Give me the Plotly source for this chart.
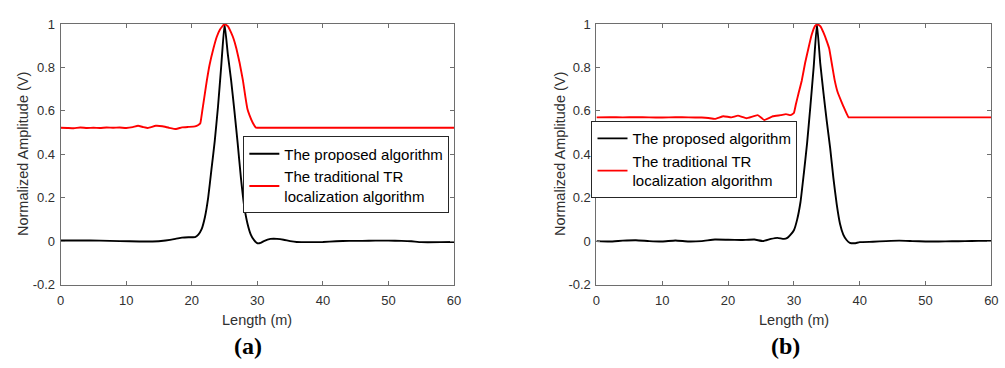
import plotly.graph_objects as go

# ---------------- data ----------------
# panel (a)
a_prop_x = [0, 3, 6, 9, 12, 14, 16, 17.5, 18.5, 19.5, 20.5, 21, 21.5, 22, 22.5, 23, 23.5, 24,
            24.5, 25, 25.5, 26, 26.5, 27, 27.5, 28, 28.5, 29, 29.5, 30, 30.5, 31, 32, 32.5, 33,
            34, 35, 36, 38, 40, 42, 44, 46, 48, 50, 52, 53.5, 55, 58, 60]
a_prop_y = [0.003, 0.003, 0.002, 0.0, -0.002, -0.002, 0.003, 0.01, 0.016, 0.018, 0.018, 0.03,
            0.055, 0.11, 0.2, 0.33, 0.46, 0.62, 0.81, 1.0, 0.86, 0.74, 0.6, 0.45, 0.29, 0.16,
            0.08, 0.03, 0.004, -0.01, -0.008, 0.0, 0.01, 0.011, 0.01, 0.006, 0.0, -0.004,
            -0.005, -0.004, -0.001, 0.001, 0.001, 0.002, 0.002, 0.001, -0.001, -0.005, -0.005, -0.004]

a_trad_x = [0, 1, 2, 3, 4, 5, 6, 7, 8, 9, 10, 11, 11.8, 12.6, 13.3, 14.5, 15.5, 16.5, 17.6,
            18.5, 19.5, 20.5, 21, 21.3, 21.6, 22, 22.3, 22.7, 23.3, 23.8, 24.3, 25, 25.5, 26,
            26.4, 26.8, 27.3, 27.8, 28.2, 28.5, 28.8, 29.3, 29.8, 30.2, 31, 35, 40, 50, 60]
a_trad_y = [0.522, 0.521, 0.52, 0.523, 0.521, 0.522, 0.521, 0.523, 0.522, 0.523, 0.521, 0.525,
            0.531, 0.525, 0.521, 0.531, 0.529, 0.522, 0.516, 0.524, 0.526, 0.528, 0.535, 0.543,
            0.6, 0.68, 0.74, 0.81, 0.887, 0.94, 0.975, 1.0, 0.99, 0.96, 0.93, 0.887, 0.82, 0.74,
            0.66, 0.607, 0.58, 0.545, 0.522, 0.522, 0.522, 0.522, 0.522, 0.522, 0.522]

# panel (b)
b_prop_x = [0, 2, 4, 6, 8, 10, 12, 14, 16, 18, 20, 22, 24, 25.3, 26.5, 27.5, 28.5, 29, 29.5,
            30, 30.5, 31, 31.5, 32, 32.5, 33, 33.5, 34, 34.5, 35, 35.5, 36, 36.5, 37, 37.5, 38,
            38.5, 39.2, 40, 42, 44, 46, 48, 50, 52, 54, 56, 58, 60]
b_prop_y = [0.0, -0.002, 0.002, 0.004, 0.0, -0.002, 0.003, -0.002, 0.0, 0.007, 0.006, 0.005,
            0.007, 0.0, 0.01, 0.015, 0.01, 0.015, 0.03, 0.05, 0.1, 0.18, 0.31, 0.45, 0.62, 0.8,
            1.0, 0.82, 0.68, 0.55, 0.43, 0.29, 0.17, 0.08, 0.03, 0.005, -0.008, -0.01, -0.005,
            -0.003, 0.0, 0.002, 0.0, -0.002, -0.002, -0.001, 0.0, 0.001, 0.001]

b_trad_x = [0, 2, 4, 6, 8, 10, 12, 14, 16, 17, 18, 19.3, 20.5, 21.5, 22.8, 24.5, 25.5, 26.8,
            28, 28.8, 29.5, 30, 30.3, 30.7, 31.2, 31.7, 32.2, 32.7, 33.2, 33.56, 34, 34.5, 35,
            35.36, 35.8, 36.2, 36.6, 36.9, 37.5, 38.3, 38.7, 39.5, 42, 45, 50, 55, 60]
b_trad_y = [0.57, 0.571, 0.57, 0.571, 0.57, 0.569, 0.571, 0.57, 0.569, 0.567, 0.563, 0.575,
            0.57, 0.578, 0.566, 0.58, 0.558, 0.575, 0.58, 0.585, 0.58, 0.59, 0.63, 0.68, 0.74,
            0.82, 0.887, 0.95, 0.99, 1.0, 0.99, 0.96, 0.92, 0.887, 0.81, 0.74, 0.69, 0.666,
            0.622, 0.57, 0.57, 0.57, 0.57, 0.57, 0.57, 0.57, 0.57]

series_names = ["The proposed algorithm", "The traditional TR<br>localization algorithm"]
x_ticks = [0, 10, 20, 30, 40, 50, 60]
y_ticks = [-0.2, 0, 0.2, 0.4, 0.6, 0.8, 1]
y_tick_text = ["-0.2", "0", "0.2", "0.4", "0.6", "0.8", "1"]
x_title = "Length (m)"
y_title = "Normalized Amplitude (V)"
captions = ["(a)", "(b)"]

# ---------------- layout helpers ----------------
W, H = 1005, 368


def px(x):
    return x / W


def py(y):
    return 1 - y / H


FONT = "Liberation Sans"
TXT = "#303030"
AX = "#6e6e6e"

fig = go.Figure()

black_line = dict(color="black", width=1.9, shape="spline", smoothing=0.4)
red_line = dict(color="#ff0000", width=1.9, shape="spline", smoothing=0.3)

fig.add_trace(go.Scatter(x=a_prop_x, y=a_prop_y, mode="lines", name=series_names[0],
                         line=black_line, xaxis="x", yaxis="y", legend="legend"))
fig.add_trace(go.Scatter(x=a_trad_x, y=a_trad_y, mode="lines", name=series_names[1],
                         line=red_line, xaxis="x", yaxis="y", legend="legend"))
fig.add_trace(go.Scatter(x=b_prop_x, y=b_prop_y, mode="lines", name=series_names[0],
                         line=black_line, xaxis="x2", yaxis="y2", legend="legend2"))
fig.add_trace(go.Scatter(x=b_trad_x, y=b_trad_y, mode="lines", name=series_names[1],
                         line=red_line, xaxis="x2", yaxis="y2", legend="legend2"))

ydom = [py(289.3), py(17.7)]
doms = [[px(57.3), px(455)], [px(599), px(998.3)]]

common_x = dict(range=[0, 60], tickvals=x_ticks, ticks="inside", ticklen=4, tickcolor=AX,
                showline=True, linecolor=AX, linewidth=1, mirror="ticks", showgrid=False,
                zeroline=False, ticklabelstandoff=4,
                tickfont=dict(family=FONT, size=13, color=TXT))
common_y = dict(range=[-0.2, 1], tickvals=y_ticks, ticktext=y_tick_text, ticks="inside",
                ticklen=4, tickcolor=AX, showline=True, linecolor=AX, linewidth=1,
                mirror="ticks", showgrid=False, zeroline=False, ticklabelstandoff=2,
                tickfont=dict(family=FONT, size=13, color=TXT))

legend_common = dict(xanchor="left", yanchor="top", bgcolor="white", bordercolor="#262626",
                     borderwidth=1, font=dict(family=FONT, size=15, color="black"),
                     tracegroupgap=0, xref="paper", yref="paper")

fig.update_layout(
    width=W, height=H, margin=dict(l=0, r=0, t=0, b=0), autosize=False,
    paper_bgcolor="white", plot_bgcolor="white", showlegend=True,
    xaxis=dict(domain=doms[0], anchor="y", **common_x),
    yaxis=dict(domain=ydom, anchor="x", **common_y),
    xaxis2=dict(domain=doms[1], anchor="y2", **common_x),
    yaxis2=dict(domain=ydom, anchor="x2", **common_y),
    legend=dict(x=px(242), y=py(135), **legend_common),
    legend2=dict(x=px(594), y=py(119), **legend_common),
)

annotations = []
for i, dom in enumerate(doms):
    cx = (dom[0] + dom[1]) / 2
    annotations.append(dict(text=x_title, x=cx, y=py(326), xref="paper", yref="paper",
                            showarrow=False, xanchor="center", yanchor="middle",
                            font=dict(family=FONT, size=14.5, color=TXT)))
    ytx = [19, 562][i]
    annotations.append(dict(text=y_title, x=px(ytx), y=(ydom[0] + ydom[1]) / 2,
                            xref="paper", yref="paper", showarrow=False, textangle=-90,
                            xanchor="center", yanchor="middle",
                            font=dict(family=FONT, size=14.5, color=TXT)))
    capx = [247, 790][i]
    annotations.append(dict(text="<b>" + captions[i] + "</b>", x=px(capx), y=py(353),
                            xref="paper", yref="paper", showarrow=False, xanchor="center",
                            yanchor="middle",
                            font=dict(family="Liberation Serif", size=24, color="black")))
fig.update_layout(annotations=annotations)

fig.write_html("out.html")
